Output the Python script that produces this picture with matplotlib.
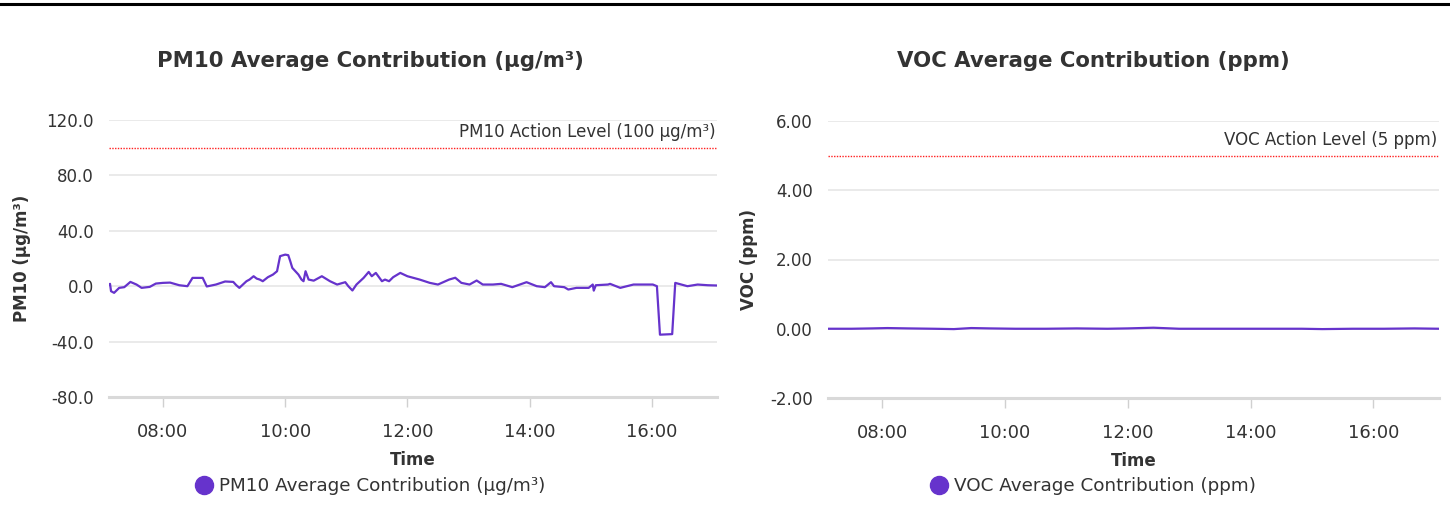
import matplotlib
matplotlib.use("Agg")
import matplotlib.pyplot as plt
import matplotlib.dates as mdates
from matplotlib.lines import Line2D
import pandas as pd

plt.rcParams['font.family'] = ['DejaVu Sans']
plt.rcParams['axes.unicode_minus'] = False

# PM10 series (time of day, µg/m³)
pm10_times = ["07:07", "07:08", "07:09", "07:12", "07:17", "07:22", "07:28", "07:34", "07:39", "07:47",
              "07:53", "08:00", "08:07", "08:16", "08:24", "08:29", "08:39", "08:43", "08:52", "09:01",
              "09:09", "09:12", "09:15", "09:22", "09:25", "09:29", "09:32", "09:35", "09:38", "09:43",
              "09:48", "09:52", "09:55", "10:00", "10:03", "10:05", "10:07", "10:10", "10:13", "10:16",
              "10:18", "10:20", "10:23", "10:28", "10:36", "10:44", "10:51", "10:59", "11:02", "11:06",
              "11:10", "11:17", "11:22", "11:25", "11:29", "11:35", "11:38", "11:42", "11:46", "11:53",
              "12:00", "12:06", "12:12", "12:22", "12:30", "12:41", "12:47", "12:53", "13:01", "13:08",
              "13:14", "13:24", "13:32", "13:43", "13:57", "14:07", "14:15", "14:21", "14:24", "14:34",
              "14:38", "14:46", "14:58", "15:02", "15:03", "15:05", "15:17", "15:19", "15:29", "15:42",
              "16:01", "16:05", "16:08", "16:20", "16:23", "16:35", "16:45", "16:55", "17:04"]
pm10_values = [1.2, 1.7, -3.6, -4.8, -1.2, -0.7, 3.1, 1.2, -1.2, -0.5,
               1.9, 2.4, 2.6, 0.7, 0.0, 6.0, 6.0, -0.2, 1.2, 3.4,
               3.1, 0.7, -1.2, 3.6, 4.8, 7.2, 5.5, 4.8, 3.6, 6.5,
               8.4, 10.8, 21.7, 22.8, 22.4, 18.0, 13.2, 10.8, 8.4, 4.8,
               3.6, 10.8, 4.8, 4.0, 7.2, 3.6, 1.2, 2.9, 0.0, -3.1,
               1.2, 6.0, 10.3, 7.2, 9.6, 3.6, 4.8, 3.6, 6.5, 9.6,
               7.2, 6.0, 4.8, 2.4, 1.2, 4.8, 6.1, 2.4, 1.2, 4.1,
               1.2, 1.2, 1.7, -0.7, 2.9, 0.0, -0.7, 2.9, 0.0, -0.7,
               -2.4, -1.2, -1.2, 1.2, -3.2, 0.7, 1.2, 1.7, -1.2, 1.2,
               1.2, 0.0, -35.0, -34.6, 2.4, 0.0, 1.2, 0.7, 0.5]

# VOC series (time of day, ppm)
voc_times = ["07:07", "07:30", "07:50", "08:05", "08:25", "08:50", "09:10", "09:27", "09:45", "10:10",
             "10:40", "11:10", "11:40", "12:00", "12:25", "12:50", "13:20", "13:50", "14:20", "14:50",
             "15:10", "15:40", "16:10", "16:40", "17:04"]
voc_values = [0.00, 0.00, 0.01, 0.02, 0.01, 0.00, -0.01, 0.02, 0.01, 0.00,
              0.00, 0.01, 0.00, 0.01, 0.03, 0.00, 0.00, 0.00, 0.00, 0.00,
              -0.01, 0.00, 0.00, 0.01, 0.00]

pm10_action = 100
voc_action = 5
hour_ticks = [8, 10, 12, 14, 16]

purple = '#6633cc'
text_col = '#333333'
grid_col = '#e6e6e6'


def to_dt(times):
    return pd.to_datetime(["2024-01-01 " + t for t in times])


fig = plt.figure(figsize=(14.5, 5.13), dpi=100)
W, H = 1450, 513

# top rule
fig.add_artist(Line2D([0, 1], [1 - 4 / H] * 2, transform=fig.transFigure, color='black', lw=2.2))

panels = [
    dict(rect=[109 / W, 1 - 397 / H, 608 / W, 277 / H], x=to_dt(pm10_times), y=pm10_values,
         ylim=(-80, 120), yticks=[-80, -40, 0, 40, 80, 120], fmt='{:.1f}',
         action=pm10_action, action_label='PM10 Action Level (100 µg/m³)',
         title='PM10 Average Contribution (µg/m³)', ylabel='PM10 (µg/m³)',
         series='PM10 Average Contribution (µg/m³)', center=370, ylab_x=-0.128),
    dict(rect=[828 / W, 1 - 398 / H, 611 / W, 277 / H], x=to_dt(voc_times), y=voc_values,
         ylim=(-2, 6), yticks=[-2, 0, 2, 4, 6], fmt='{:.2f}',
         action=voc_action, action_label='VOC Action Level (5 ppm)',
         title='VOC Average Contribution (ppm)', ylabel='VOC (ppm)',
         series='VOC Average Contribution (ppm)', center=1093, ylab_x=-0.115),
]

for p in panels:
    ax = fig.add_axes(p['rect'])
    ax.plot(p['x'], p['y'], color=purple, lw=1.6, zorder=3)
    ax.axhline(p['action'], color='#ff2020', lw=1.0, linestyle=(0, (1, 1)), zorder=2)
    ax.annotate(p['action_label'], xy=(0.997, p['action']), xycoords=ax.get_yaxis_transform(),
                xytext=(0, 5), textcoords='offset points',
                ha='right', va='bottom', fontsize=12, color=text_col)

    ax.set_ylim(*p['ylim'])
    ax.set_yticks(p['yticks'])
    ax.set_yticklabels([p['fmt'].format(v) for v in p['yticks']])
    ax.set_xlim(p['x'][0], p['x'][-1])
    ax.xaxis.set_major_locator(mdates.HourLocator(byhour=hour_ticks))
    ax.xaxis.set_major_formatter(mdates.DateFormatter('%H:%M'))

    ax.grid(axis='y', color=grid_col, lw=1.2)
    ax.set_axisbelow(True)
    for s in ['top', 'right', 'left']:
        ax.spines[s].set_visible(False)
    ax.spines['bottom'].set_color('#d9d9d9')
    ax.spines['bottom'].set_linewidth(2.2)
    ax.tick_params(axis='y', length=0, pad=11, labelsize=12, labelcolor=text_col)
    ax.tick_params(axis='x', length=7, width=1, color='#d0d0d0', pad=12, labelsize=13,
                   labelcolor=text_col)

    ax.set_xlabel('Time', fontsize=12, fontweight='bold', color=text_col)
    ax.xaxis.set_label_coords(0.5, -0.196)
    ax.set_ylabel(p['ylabel'], fontsize=12, fontweight='bold', color=text_col)
    ax.yaxis.set_label_coords(p['ylab_x'], 0.5)

    fig.text(p['center'] / W, 1 - 61 / H, p['title'], ha='center', va='center',
             fontsize=15.3, fontweight='bold', color=text_col)

    handle = Line2D([], [], marker='o', linestyle='none', markersize=13, color=purple)
    ax.legend([handle], [p['series']], loc='center', bbox_to_anchor=(p['center'] / W, 1 - 486 / H),
              bbox_transform=fig.transFigure, frameon=False, handletextpad=0.3,
              fontsize=13.2, labelcolor=text_col, handlelength=1.0)

fig.savefig('out.png', dpi=100, facecolor='white')
